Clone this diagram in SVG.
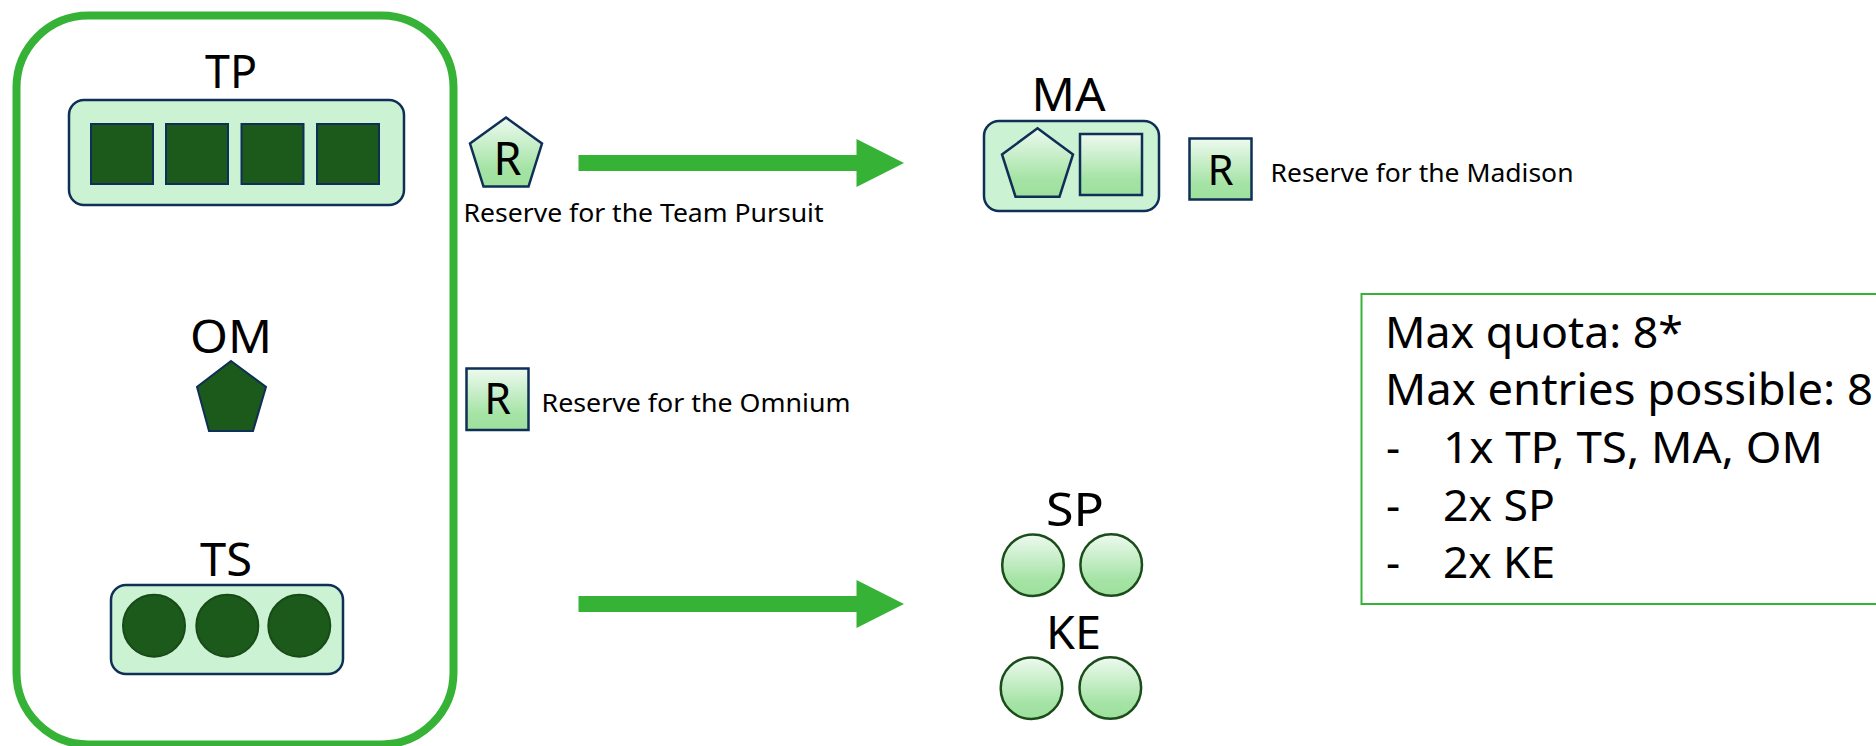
<svg xmlns="http://www.w3.org/2000/svg" width="1876" height="746" viewBox="0 0 1876 746">
<defs>
<linearGradient id="lg" x1="0" y1="0" x2="0" y2="1">
<stop offset="0" stop-color="#EEFAF0"/>
<stop offset="0.75" stop-color="#A4E3A4"/>
<stop offset="1" stop-color="#9EE09E"/>
</linearGradient>
<style>
.t{font-family:"Noto Sans","Open Sans","DejaVu Sans",sans-serif;fill:#000}
.h{font-size:46px;text-anchor:middle}
.s{font-size:26px}
.b{font-size:44px}
.cont{fill:#CCF2D4;stroke:#0E2F56;stroke-width:2.5}
.dk{fill:#1B5A1B;stroke:#0E2F56;stroke-width:2}
.dkc{fill:#1B5A1B;stroke:#174A17;stroke-width:2}
.gr{fill:url(#lg);stroke:#0E2F56;stroke-width:2.5}
.grc{fill:url(#lg);stroke:#1B4D1B;stroke-width:2.5}
.arr{fill:#36B336}
</style>
</defs>
<rect width="1876" height="746" fill="#fff"/>
<g id="left-box">
<rect x="16.5" y="15.5" width="437" height="729" rx="72" fill="none" stroke="#36B336" stroke-width="8"/>
</g>
<g id="TP">
<text class="t h" x="231" y="88" textLength="52" lengthAdjust="spacingAndGlyphs">TP</text>
<rect class="cont" x="69" y="100" width="335" height="105" rx="15"/>
<rect class="dk" x="91" y="124" width="62" height="60"/>
<rect class="dk" x="166" y="124" width="62" height="60"/>
<rect class="dk" x="241.5" y="124" width="62" height="60"/>
<rect class="dk" x="317" y="124" width="62" height="60"/>
</g>
<g id="OM">
<text class="t h" x="231" y="353" textLength="82" lengthAdjust="spacingAndGlyphs">OM</text>
<polygon class="dk" points="231,361 266,387 253,431 209,431 197,387"/>
</g>
<g id="TS">
<text class="t h" x="226" y="576" textLength="52" lengthAdjust="spacingAndGlyphs">TS</text>
<rect class="cont" x="111" y="585" width="232" height="89" rx="15"/>
<circle class="dkc" cx="154" cy="625.7" r="31"/>
<circle class="dkc" cx="227.3" cy="625.7" r="31"/>
<circle class="dkc" cx="299.3" cy="625.7" r="31"/>
</g>
<g id="reserve-TP">
<polygon class="gr" points="506,117.5 542,143.5 528.5,186.5 483.5,186.5 470,143.5"/>
<text class="t" x="507.5" y="175" font-size="45" text-anchor="middle">R</text>
<text class="t s" x="463.5" y="222.3" textLength="360" lengthAdjust="spacingAndGlyphs">Reserve for the Team Pursuit</text>
</g>
<g id="reserve-OM">
<rect class="gr" x="466.5" y="368.5" width="62" height="61.5"/>
<text class="t" x="497.5" y="414" font-size="43" text-anchor="middle">R</text>
<text class="t s" x="541.5" y="412.3" textLength="309" lengthAdjust="spacingAndGlyphs">Reserve for the Omnium</text>
</g>
<g id="MA">
<text class="t h" x="1068.5" y="110.7" textLength="74" lengthAdjust="spacingAndGlyphs">MA</text>
<rect class="cont" x="984" y="121" width="175" height="90" rx="15"/>
<polygon class="gr" points="1037.5,128.3 1073,154.5 1059.5,196.7 1015.5,196.7 1002,154.5"/>
<rect class="gr" x="1080" y="134" width="62" height="61"/>
</g>
<g id="reserve-MA">
<rect class="gr" x="1189.5" y="138.5" width="62" height="61"/>
<text class="t" x="1220.5" y="185" font-size="42" text-anchor="middle">R</text>
<text class="t s" x="1270.5" y="181.7" textLength="303" lengthAdjust="spacingAndGlyphs">Reserve for the Madison</text>
</g>
<g id="SP">
<text class="t h" x="1075" y="525.7" textLength="58" lengthAdjust="spacingAndGlyphs">SP</text>
<circle class="grc" cx="1033" cy="565.2" r="30.8"/>
<circle class="grc" cx="1111.2" cy="565" r="30.8"/>
</g>
<g id="KE">
<text class="t h" x="1073.5" y="649.3" textLength="55" lengthAdjust="spacingAndGlyphs">KE</text>
<circle class="grc" cx="1031.5" cy="688.2" r="30.8"/>
<circle class="grc" cx="1110.3" cy="688" r="30.8"/>
</g>
<g id="info-box">
<rect x="1361.5" y="294" width="530" height="310" fill="none" stroke="#36B336" stroke-width="2"/>
<text class="t b" x="1385" y="348.3" textLength="298" lengthAdjust="spacingAndGlyphs">Max quota: 8*</text>
<text class="t b" x="1385" y="405" textLength="488" lengthAdjust="spacingAndGlyphs">Max entries possible: 8</text>
<text class="t b" x="1386" y="462.7">-</text>
<text class="t b" x="1443" y="462.7" textLength="380" lengthAdjust="spacingAndGlyphs">1x TP, TS, MA, OM</text>
<text class="t b" x="1386" y="521">-</text>
<text class="t b" x="1443" y="521" textLength="112" lengthAdjust="spacingAndGlyphs">2x SP</text>
<text class="t b" x="1386" y="578.3">-</text>
<text class="t b" x="1443" y="578.3" textLength="112" lengthAdjust="spacingAndGlyphs">2x KE</text>
</g>
<g id="connectors">
<polygon class="arr" points="578.5,155 856.5,155 856.5,139 904,163 856.5,187 856.5,171 578.5,171"/>
<polygon class="arr" points="578.5,596 856.5,596 856.5,580 904,604 856.5,628 856.5,612 578.5,612"/>
</g>
</svg>
